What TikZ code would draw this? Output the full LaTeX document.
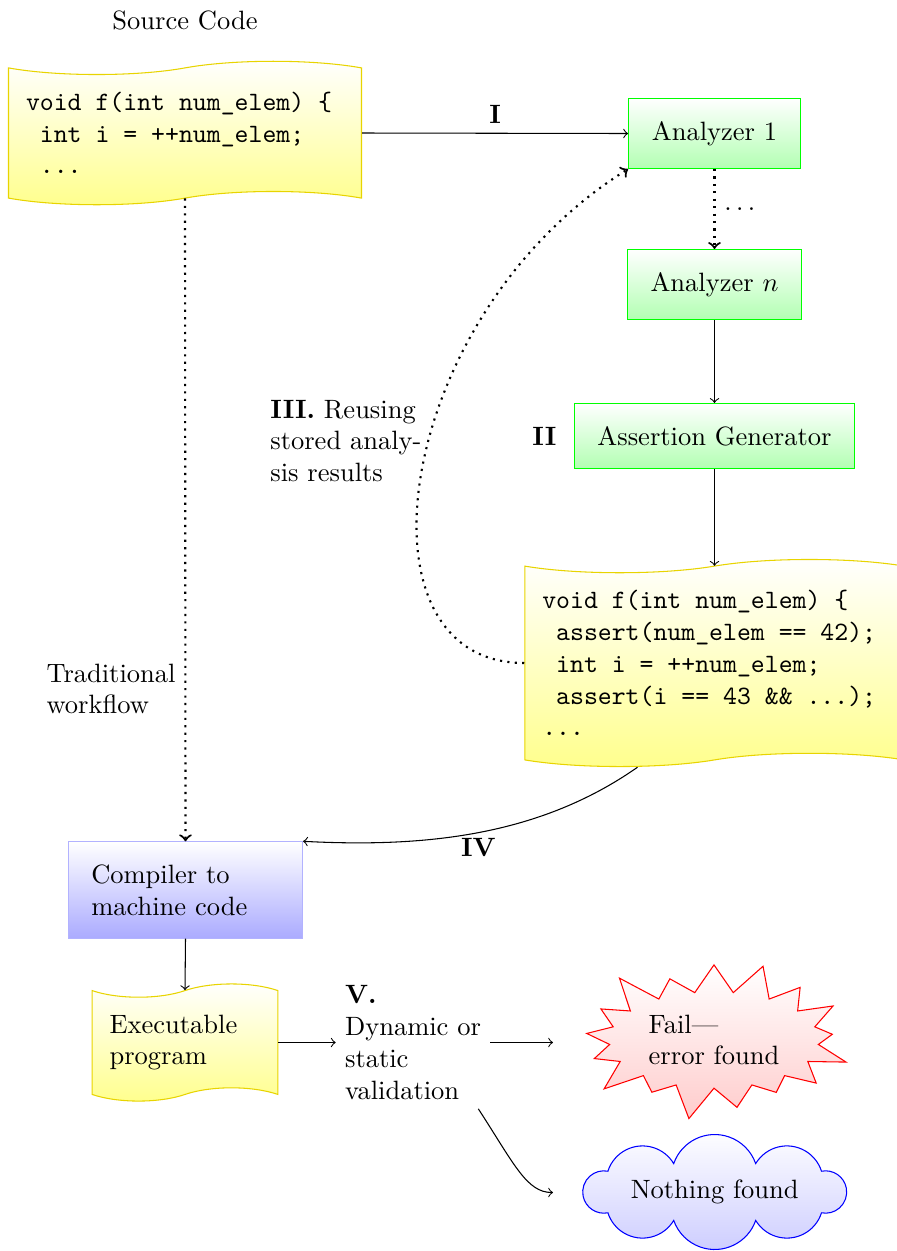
\documentclass[tikz,border=0pt]{standalone}
\usetikzlibrary{shapes.symbols,shapes.geometric}
\def\pxu{0.3774pt}
\definecolor{tapeline}{RGB}{232,212,0}
% monospaced code with fixed-width spaces
\newcommand\codefont{\ttfamily\spaceskip=\fontcharwd\font`x\relax\xspaceskip=\spaceskip}
\newcommand\ttind{\mbox{}\ }
\begin{document}
\begin{tikzpicture}[x=\pxu, y=-\pxu,
  doc/.style={tape, draw=tapeline, top color=white, bottom color=yellow!45,
    align=left, inner xsep=6.6pt, inner ysep=6.6pt},
  stage/.style={rectangle, draw=green, top color=white, bottom color=green!30,
    inner xsep=8.8pt, inner ysep=8.6pt},
  puffy/.style={draw=blue, top color=white, bottom color=blue!20},
  flow/.style={->},
  dotflow/.style={->, thick, dotted},
  tag/.style={font=\bfseries}]

\useasboundingbox (0,0) rectangle (897,1251);

% source program
\node (srctitle) at (185,20) {Source Code};
\node[doc, text width=120pt] (src) at (185,133)
  {\codefont void f(int num\_elem) \{\\\ttind int i = ++num\_elem;\\\ttind ...};

% analysis chain
\node[stage] (a1) at (714.5,133.5) {Analyzer 1};
\node[stage] (an) at (714.5,284.5) {Analyzer $n$};
\node[stage, label={[label distance=3pt]left:\textbf{II}}] (gen) at (714.5,436) {Assertion Generator};

% instrumented program
\node[doc, text width=130pt] (asrt) at (714.5,663)
  {\codefont void f(int num\_elem) \{\\\ttind assert(num\_elem == 42);\\\ttind int i = ++num\_elem;\\\ttind assert(i == 43 \&\& ...);\\...};

% compilation and execution
\node[rectangle, draw=blue!30, top color=white, bottom color=blue!33,
  text width=2.5cm, align=left, inner xsep=8.6pt, inner ysep=8.6pt] (comp) at (185.5,890)
  {Compiler to\\machine code};
\node[doc, text width=2cm] (exe) at (185,1042.5) {Executable\\program};
\node[align=left] (val) at (413,1042.5) {\textbf{V.}\\Dynamic or\\static\\validation};

% outcomes
\node[starburst, draw=red, top color=white, bottom color=red!20, align=left] (fail) at (714,1040)
  {Fail---\\error found};

% cloud outline: eight circular puffs around the centre
\coordinate (okc) at (714.7,1192);
\path[puffy] ([shift={(-106.8,-20.8)}]okc)
  arc[start angle=162.32, end angle=30.85, radius=36.33*\pxu]
  arc[start angle=160.73, end angle=19.27, radius=43.43*\pxu]
  arc[start angle=149.15, end angle=17.68, radius=36.33*\pxu]
  arc[start angle=100.94, end angle=-100.94, radius=21.18*\pxu]
  arc[start angle=-17.68, end angle=-149.15, radius=36.33*\pxu]
  arc[start angle=-19.27, end angle=-160.73, radius=43.43*\pxu]
  arc[start angle=-30.85, end angle=-162.32, radius=36.33*\pxu]
  arc[start angle=-79.06, end angle=-280.94, radius=21.18*\pxu]
  -- cycle;
\node (ok) at (okc) {Nothing found};

\coordinate (failin) at (553,1042.5);
\coordinate (okin) at (553,1192.5);

% connectors
\draw[flow] (src.east) -- (a1.west) node[midway, above, tag] {I};
\draw[dotflow] (a1.south) -- (an.north) node[midway, right] {$\ldots$};
\draw[flow] (an.south) -- (gen.north);
\draw[flow] (gen.south) -- (asrt.north);
\draw[dotflow] (asrt.west) to[out=180, in=212, out looseness=0.9, in looseness=1.4] (a1.south west);
\node[align=left, anchor=west] (reuse) at (261,441)
  {\textbf{III.} Reusing\\stored analy-\\sis results};
\draw[dotflow] (src.south) -- (comp.north)
  node[pos=0.763, left, align=left] {Traditional\\workflow};
\draw[flow] ([shift={(-77,7)}]asrt.south) to[out=215, in=-3, looseness=0.9]
  node[pos=0.5, below, inner sep=2pt, tag] {IV} (comp.north east);
\draw[flow] (comp.south) -- (exe.north);
\draw[flow] (exe.east) -- (val.west);
\draw[flow] (val.east) -- (failin);
\draw[flow] ([xshift=-12*\pxu]val.south east) to[out=-57, in=180, out looseness=1.5, in looseness=0.6] (okin);
\end{tikzpicture}
\end{document}
